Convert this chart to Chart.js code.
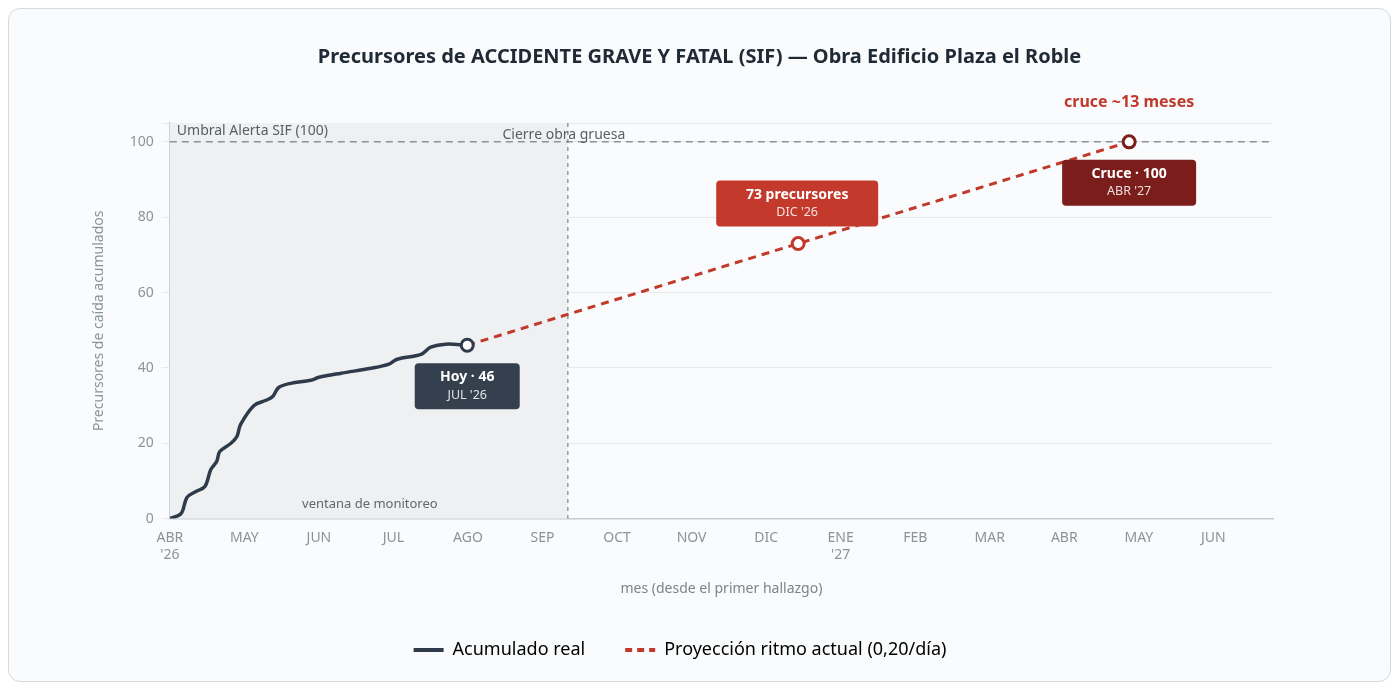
<!DOCTYPE html>
<html>
<head>
<meta charset="utf-8">
<script src="https://cdn.jsdelivr.net/npm/chart.js@4.4.1/dist/chart.umd.min.js"></script>
<style>
  html, body { margin: 0; padding: 0; background: #ffffff; }
  #card {
    position: absolute; left: 8px; top: 8px; width: 1381px; height: 672px;
    border: 1.5px solid #d5dade; border-radius: 12px; background: #fafbfc;
  }
  #wrap { position: absolute; left: 0; top: 0; width: 1381px; height: 672px; }
</style>
</head>
<body>
<div id="card"><div id="wrap"><canvas id="chart"></canvas></div></div>
<script>
// Month ticks (x = months since 1 Apr 2026)
const monthLabels = ['ABR', 'MAY', 'JUN', 'JUL', 'AGO', 'SEP', 'OCT', 'NOV', 'DIC', 'ENE', 'FEB', 'MAR', 'ABR', 'MAY', 'JUN'];
const yearLabels = ["'26", '', '', '', '', '', '', '', '', "'27", '', '', '', '', ''];

// Cumulative real precursors
const realX = [0, 0.15, 0.23, 0.35, 0.47, 0.55, 0.63, 0.67, 0.82, 0.9, 0.95, 1.13, 1.29, 1.38, 1.46, 1.62, 1.89, 2.0, 2.3, 2.7, 2.94, 3.05, 3.37, 3.5, 3.7, 3.99];
const realY = [0, 1.3, 5.6, 7.2, 8.5, 13, 15.2, 17.8, 20, 21.8, 25, 30, 31.4, 32.4, 34.8, 35.9, 36.7, 37.5, 38.6, 39.9, 41, 42.3, 43.6, 45.5, 46.3, 46];

// Projection at current pace
const projX = [3.99, 8.43, 12.87];
const projY = [46, 73, 100];

const threshold = 100;
const closeMonth = 5.34;

const titleText = 'Precursores de ACCIDENTE GRAVE Y FATAL (SIF) — Obra Edificio Plaza el Roble';
const darkColor = '#2f3b4a';
const redColor = '#c0392b';

const guidesPlugin = {
  id: 'guides',
  beforeDatasetsDraw(chart) {
    const { ctx, chartArea: a, scales: { x, y } } = chart;
    ctx.save();
    // title centred on the card
    ctx.font = 'bold 20px "Noto Sans", sans-serif';
    ctx.fillStyle = '#1f2a36';
    ctx.textAlign = 'center';
    ctx.textBaseline = 'middle';
    ctx.fillText(titleText, chart.width / 2, 48);
    // monitoring window shading
    const xc = x.getPixelForValue(closeMonth);
    ctx.fillStyle = '#eef0f1';
    ctx.fillRect(a.left, a.top, xc - a.left, a.bottom - a.top);
    // threshold line
    const yt = y.getPixelForValue(threshold);
    ctx.strokeStyle = '#8a9399';
    ctx.lineWidth = 1.5;
    ctx.setLineDash([7, 5]);
    ctx.beginPath(); ctx.moveTo(a.left, yt); ctx.lineTo(a.right, yt); ctx.stroke();
    // close line
    ctx.lineWidth = 1.2;
    ctx.setLineDash([4, 4]);
    ctx.strokeStyle = '#7d868c';
    ctx.beginPath(); ctx.moveTo(xc, a.top); ctx.lineTo(xc, a.bottom); ctx.stroke();
    ctx.setLineDash([]);
    ctx.font = '14px "Noto Sans", sans-serif';
    ctx.fillStyle = '#555f66';
    ctx.textBaseline = 'bottom';
    ctx.textAlign = 'left';
    ctx.fillText('Umbral Alerta SIF (100)', a.left + 7, yt - 4);
    ctx.textAlign = 'center';
    ctx.fillText('Cierre obra gruesa', xc - 4, yt);
    ctx.fillStyle = '#5f686e';
    ctx.font = '13px "Noto Sans", sans-serif';
    ctx.fillText('ventana de monitoreo', (a.left + xc) / 2 + 1, a.bottom - 8);
    ctx.restore();
  },
  afterDatasetsDraw(chart) {
    const { ctx, scales: { x, y } } = chart;
    const box = (cx, top, w, h, bg, l1, l2) => {
      ctx.fillStyle = bg;
      ctx.beginPath(); ctx.roundRect(cx - w / 2, top, w, h, 4); ctx.fill();
      ctx.textAlign = 'center'; ctx.textBaseline = 'middle';
      ctx.fillStyle = '#ffffff';
      ctx.font = 'bold 14px "Noto Sans", sans-serif';
      ctx.fillText(l1, cx, top + 14);
      ctx.font = '12.5px "Noto Sans", sans-serif';
      ctx.fillStyle = 'rgba(255,255,255,0.85)';
      ctx.fillText(l2, cx, top + 32);
    };
    ctx.save();
    const hx = x.getPixelForValue(projX[0]), hy = y.getPixelForValue(projY[0]);
    box(hx, hy + 18, 105, 46, '#34404e', 'Hoy · 46', "JUL '26");
    const mx = x.getPixelForValue(projX[1]) - 1, my = y.getPixelForValue(projY[1]);
    box(mx, my - 63, 162, 46, '#c33a2c', '73 precursores', "DIC '26");
    const cx = x.getPixelForValue(projX[2]), cy = y.getPixelForValue(projY[2]);
    box(cx, cy + 18, 134, 46, '#7b1d1b', 'Cruce · 100', "ABR '27");
    ctx.font = 'bold 16px "Noto Sans", sans-serif';
    ctx.fillStyle = redColor;
    ctx.textAlign = 'center'; ctx.textBaseline = 'middle';
    ctx.fillText('cruce ~13 meses', cx, cy - 39);
    ctx.restore();
  }
};

new Chart(document.getElementById('chart'), {
  type: 'line',
  data: {
    datasets: [
      {
        label: 'Acumulado real',
        data: realX.map((v, i) => ({ x: v, y: realY[i] })),
        borderColor: darkColor,
        backgroundColor: darkColor,
        borderWidth: 3.5,
        tension: 0.35,
        pointRadius: realX.map((v, i) => i === realX.length - 1 ? 6 : 0),
        pointBackgroundColor: '#ffffff',
        pointBorderColor: darkColor,
        pointBorderWidth: 3,
        order: 1
      },
      {
        label: 'Proyección ritmo actual (0,20/día)',
        data: projX.map((v, i) => ({ x: v, y: projY[i] })),
        borderColor: redColor,
        backgroundColor: redColor,
        borderWidth: 3,
        borderDash: [8, 6],
        tension: 0,
        pointRadius: [0, 6, 6],
        pointBackgroundColor: '#ffffff',
        pointBorderColor: [redColor, redColor, '#7b1d1b'],
        pointBorderWidth: 3,
        order: 2
      }
    ]
  },
  options: {
    responsive: true,
    maintainAspectRatio: false,
    animation: false,
    layout: { padding: { left: 78, right: 117, top: 10, bottom: 12 } },
    plugins: {
      title: {
        display: true,
        text: titleText,
        color: 'rgba(0,0,0,0)',
        font: { family: '"Noto Sans", sans-serif', size: 20, weight: 'bold' },
        padding: { top: 22, bottom: 58 }
      },
      legend: {
        position: 'bottom',
        labels: {
          color: '#3b4550',
          font: { family: '"Noto Sans", sans-serif', size: 18 },
          padding: 40,
          generateLabels(chart) {
            return chart.data.datasets.map((ds, i) => ({
              text: ds.label,
              fillStyle: ds.borderColor,
              strokeStyle: ds.borderColor,
              lineWidth: 4,
              lineDash: i === 1 ? [7, 5] : [],
              pointStyle: 'line',
              datasetIndex: i
            }));
          },
          usePointStyle: true,
          pointStyleWidth: 30
        }
      },
      tooltip: { enabled: false }
    },
    scales: {
      x: {
        type: 'linear',
        min: 0,
        max: 14.8,
        grid: { display: false },
        border: { color: '#c3cbd0', width: 1.5 },
        ticks: {
          stepSize: 1,
          color: '#8a949b',
          font: { family: '"Noto Sans", sans-serif', size: 14 },
          maxRotation: 0,
          autoSkip: false,
          callback: (v) => {
            const i = Math.round(v);
            if (i !== v || i >= monthLabels.length) return '';
            return yearLabels[i] ? [monthLabels[i], yearLabels[i]] : monthLabels[i];
          }
        },
        title: {
          display: true,
          text: 'mes (desde el primer hallazgo)',
          color: '#7b858c',
          font: { family: '"Noto Sans", sans-serif', size: 14 },
          padding: { top: 14 }
        }
      },
      y: {
        min: 0,
        max: 105,
        grid: { color: '#e6eaec' },
        border: { color: '#c3cbd0', width: 1.5 },
        ticks: {
          stepSize: 20,
          color: '#8a949b',
          font: { family: '"Noto Sans", sans-serif', size: 14 },
          padding: 8,
          callback: (v) => v % 20 === 0 ? v : ''
        },
        title: {
          display: true,
          text: 'Precursores de caída acumulados',
          color: '#8a949b',
          font: { family: '"Noto Sans", sans-serif', size: 14 },
          padding: { bottom: 14 }
        }
      }
    }
  },
  plugins: [guidesPlugin]
});
</script>
</body>
</html>
